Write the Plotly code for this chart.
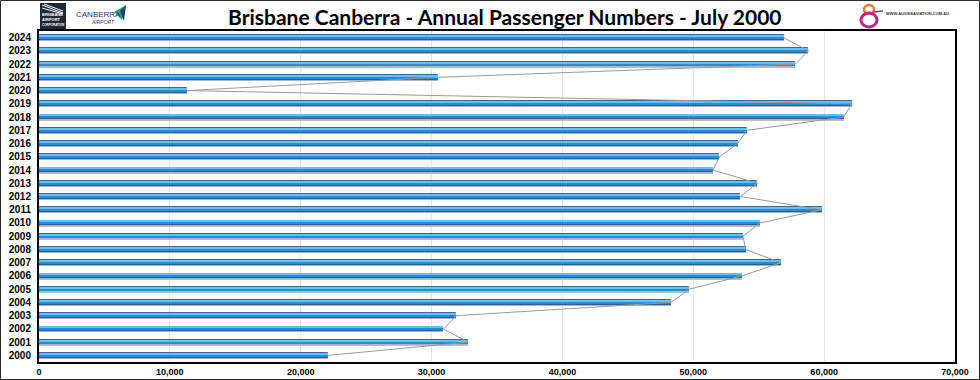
import plotly.graph_objects as go

years = ["2000", "2001", "2002", "2003", "2004", "2005", "2006", "2007", "2008", "2009",
         "2010", "2011", "2012", "2013", "2014", "2015", "2016", "2017", "2018", "2019",
         "2020", "2021", "2022", "2023", "2024"]
passengers = [22100, 32800, 30900, 31900, 48300, 49700, 53700, 56700, 54000, 53800,
              55100, 59800, 53600, 54900, 51500, 52000, 53400, 54100, 61500, 62100,
              11300, 30500, 57800, 58800, 56900]
x_tick_values = [0, 10000, 20000, 30000, 40000, 50000, 60000, 70000]
x_tick_labels = ["0", "10,000", "20,000", "30,000", "40,000", "50,000", "60,000", "70,000"]
title_text = "Brisbane Canberra - Annual Passenger Numbers - July 2000"

W, H = 980, 380
L, R, T, B = 39, 25, 31, 18
PW, PH = W - L - R, H - T - B


def px(x):
    return (x - L) / PW


def py(y):
    return (H - B - y) / PH


fig = go.Figure()

# connecting line between bar ends
fig.add_trace(go.Scatter(x=passengers, y=years, mode="lines",
                         line=dict(color="#9a9a9a", width=1), hoverinfo="skip",
                         showlegend=False))

# layered bars to mimic the bevelled look
layers = [
    ("#bcbcbc", -0.27, 0.40, None),
    ("#1d4e85", -0.17, 0.35, "#1d4e85"),
    ("#1f8ee0", -0.07, 0.15, None),
    ("#66c0f4", 0.08, 0.09, None),
]
for color, off, wid, lc in layers:
    fig.add_trace(go.Bar(x=passengers, y=years, orientation="h", offset=off, width=wid,
                         marker=dict(color=color,
                                     line=dict(color=lc or color, width=0.8 if lc else 0)),
                         showlegend=False, hoverinfo="x+y"))

fig.update_layout(
    width=W, height=H,
    margin=dict(l=L, r=R, t=T, b=B, pad=0),
    paper_bgcolor="white", plot_bgcolor="white",
    barmode="overlay", bargap=0,
    showlegend=False,
    xaxis=dict(range=[0, 70000], tickvals=x_tick_values, ticktext=x_tick_labels,
               showgrid=True, gridcolor="#e4e4e4", gridwidth=1, zeroline=False,
               showline=True, linecolor="black", linewidth=2, mirror=True, ticks="",
               automargin=False,
               tickfont=dict(family="Liberation Sans, Arial", size=9, color="black", weight="bold")),
    yaxis=dict(type="category", categoryorder="array", categoryarray=years,
               range=[-0.5, len(years) - 0.5],
               showgrid=False, zeroline=False, automargin=False,
               showline=True, linecolor="black", linewidth=2, mirror=True, ticks="",
               ticklabelstandoff=4,
               tickfont=dict(family="Liberation Sans, Arial", size=10, color="black", weight="bold")),
)

annotations = [
    dict(text=title_text, x=px(505), y=py(17), xref="paper", yref="paper",
         xanchor="center", yanchor="middle", showarrow=False,
         font=dict(family="Lato, Open Sans", size=21, color="black", weight="bold")),
    # Brisbane Airport logo text
    dict(text="BRISBANE<br>AIRPORT<br><span style='font-size:3px'>CORPORATION</span>",
         x=px(53), y=py(20), xref="paper", yref="paper", xanchor="center", yanchor="middle",
         showarrow=False, align="left",
         font=dict(family="Liberation Sans Narrow, Liberation Sans", size=4, color="white", weight="bold")),
    # Canberra Airport logo text
    dict(text="CANBERRA", x=px(98), y=py(14), xref="paper", yref="paper",
         xanchor="center", yanchor="middle", showarrow=False,
         font=dict(family="Liberation Sans Narrow, Liberation Sans", size=8, color="#2f3d6b")),
    dict(text="<i>AIRPORT</i>", x=px(103), y=py(22), xref="paper", yref="paper",
         xanchor="center", yanchor="middle", showarrow=False,
         font=dict(family="Liberation Sans", size=5, color="#2f3d6b")),
    # Aussie aviation url
    dict(text="WWW.AUSSIEAVIATION.COM.AU", x=px(884), y=py(13), xref="paper", yref="paper",
         xanchor="left", yanchor="middle", showarrow=False,
         font=dict(family="Liberation Sans", size=4, color="#333333", weight="bold")),
]
fig.update_layout(annotations=annotations)

shapes = [
    # outer border
    dict(type="rect", xref="paper", yref="paper", x0=px(0.5), x1=px(979.5), y0=py(379.5), y1=py(0.5),
         line=dict(color="#2a2a2a", width=1), fillcolor="rgba(0,0,0,0)", layer="above"),
    # Brisbane logo box
    dict(type="rect", xref="paper", yref="paper", x0=px(40), x1=px(66), y0=py(29), y1=py(3),
         line=dict(width=0), fillcolor="#1e2838", layer="below"),
    dict(type="line", xref="paper", yref="paper", x0=px(42), x1=px(63), y0=py(5), y1=py(13),
         line=dict(color="white", width=1)),
    dict(type="line", xref="paper", yref="paper", x0=px(42), x1=px(63), y0=py(8), y1=py(14),
         line=dict(color="white", width=1)),
    dict(type="line", xref="paper", yref="paper", x0=px(44), x1=px(63), y0=py(4), y1=py(11),
         line=dict(color="white", width=1)),
    # Canberra triangle
    dict(type="path", xref="paper", yref="paper",
         path=f"M {px(114)},{py(12)} L {px(126)},{py(5)} L {px(122)},{py(20)} Z",
         line=dict(width=0), fillcolor="#2aa37a"),
    dict(type="path", xref="paper", yref="paper",
         path=f"M {px(120)},{py(11)} L {px(126)},{py(5)} L {px(124)},{py(21)} Z",
         line=dict(width=0), fillcolor="#1f3d7a"),
    # Aussie aviation emblem
    dict(type="circle", xref="paper", yref="paper", x0=px(864), x1=px(874), y0=py(14), y1=py(5),
         line=dict(color="#f07a2a", width=2.5), fillcolor="rgba(0,0,0,0)"),
    dict(type="circle", xref="paper", yref="paper", x0=px(861), x1=px(877), y0=py(27), y1=py(13),
         line=dict(color="#c0268a", width=3), fillcolor="rgba(0,0,0,0)"),
    dict(type="line", xref="paper", yref="paper", x0=px(873), x1=px(883), y0=py(12), y1=py(11),
         line=dict(color="#6a3fa0", width=1.5)),
]
fig.update_layout(shapes=shapes)

fig.write_html("out.html", config={"displayModeBar": False},
               post_script="document.body.style.margin='0';")
